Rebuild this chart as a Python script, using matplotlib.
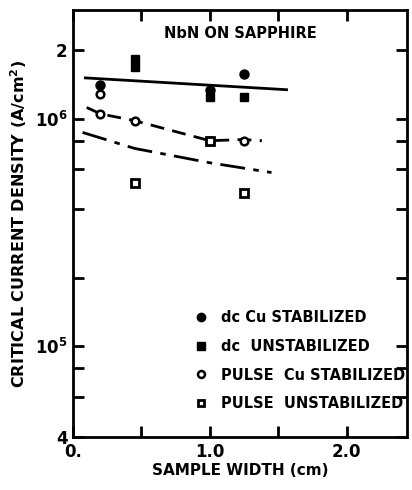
import numpy as np
import matplotlib.pyplot as plt
from matplotlib.lines import Line2D
from matplotlib.ticker import FixedLocator, NullLocator

# Data (sample width in cm, Jc in A/cm^2)
dc_cu_x = [0.2, 1.0, 1.25]
dc_cu_y = [1.40e6, 1.33e6, 1.57e6]

dc_unstab_x = [0.45, 0.45, 1.0, 1.25]
dc_unstab_y = [1.82e6, 1.68e6, 1.24e6, 1.25e6]

pulse_cu_x = [0.2, 0.2, 0.45, 1.0, 1.25]
pulse_cu_y = [1.28e6, 1.05e6, 0.98e6, 0.80e6, 0.80e6]

pulse_unstab_x = [0.45, 1.0, 1.25]
pulse_unstab_y = [5.2e5, 8.0e5, 4.7e5]

# trend lines
solid_x = [0.09, 1.56]
solid_y = [1.51e6, 1.34e6]

dash_x = [0.10, 0.2, 0.45, 1.0, 1.25, 1.38]
dash_y = [1.12e6, 1.05e6, 0.98e6, 0.80e6, 0.81e6, 0.80e6]

dashdot_x = [0.07, 0.45, 1.0, 1.45]
dashdot_y = [8.7e5, 7.4e5, 6.4e5, 5.8e5]

legend_labels = ["dc Cu STABILIZED", "dc  UNSTABILIZED",
                 "PULSE  Cu STABILIZED", "PULSE  UNSTABILIZED"]

plt.rcParams['font.family'] = ['DejaVu Sans']
plt.rcParams['font.weight'] = 'bold'
plt.rcParams['axes.labelweight'] = 'bold'

fig = plt.figure(figsize=(4.12, 4.9), dpi=100)
ax = fig.add_axes([73 / 412, 1 - 437 / 490, (407 - 73) / 412, (437 - 10) / 490])

ax.plot(solid_x, solid_y, color='black', lw=2)
ax.plot(dash_x, dash_y, color='black', lw=2, dashes=(5, 3))
ax.plot(dashdot_x, dashdot_y, color='black', lw=2, dashes=(9, 3, 2, 3))

ax.plot(dc_cu_x, dc_cu_y, 'o', color='black', ms=6.5, ls='none')
ax.plot(dc_unstab_x, dc_unstab_y, 's', color='black', ms=6, ls='none')
ax.plot(pulse_cu_x, pulse_cu_y, 'o', mfc='white', mec='black', mew=1.8, ms=5.5, ls='none')
ax.plot(pulse_unstab_x, pulse_unstab_y, 's', mfc='white', mec='black', mew=2, ms=5.5, ls='none')

ax.set_yscale('log')
ax.set_xlim(0, 2.44)
ax.set_ylim(4e4, 3e6)

yt = [4e4, 6e4, 8e4, 1e5, 2e5, 4e5, 6e5, 8e5, 1e6, 2e6]
ylab = {4e4: '4', 1e5: '$10^5$', 1e6: '$10^6$', 2e6: '2'}
ax.yaxis.set_major_locator(FixedLocator(yt))
ax.yaxis.set_minor_locator(NullLocator())
ax.set_yticklabels([ylab.get(v, '') for v in yt], fontsize=12)
ax.set_xticks([0, 0.5, 1.0, 1.5, 2.0])
ax.set_xticklabels(['0.', '', '1.0', '', '2.0'], fontsize=12)

ax.tick_params(direction='in', length=8, width=2, top=True, right=True, pad=4)
for s in ax.spines.values():
    s.set_linewidth(2)

ax.set_xlabel('SAMPLE WIDTH (cm)', fontsize=11, labelpad=2)
ax.set_ylabel('CRITICAL CURRENT DENSITY (A/cm$^2$)', fontsize=11.5, labelpad=4)
ax.text(0.5, 0.945, 'NbN ON SAPPHIRE', transform=ax.transAxes, ha='center',
        va='center', fontsize=10.5)

handles = [
    Line2D([], [], marker='o', color='black', ls='none', ms=6),
    Line2D([], [], marker='s', color='black', ls='none', ms=5.5),
    Line2D([], [], marker='o', mfc='white', mec='black', mew=1.8, ls='none', ms=5),
    Line2D([], [], marker='s', mfc='white', mec='black', mew=2, ls='none', ms=5),
]
ax.legend(handles, legend_labels, loc='lower left', bbox_to_anchor=(0.36, 0.06),
          frameon=False, fontsize=10.5, handlelength=1, handletextpad=0.9,
          labelspacing=0.95, borderaxespad=0, borderpad=0)

fig.savefig('out.png', dpi=100)
